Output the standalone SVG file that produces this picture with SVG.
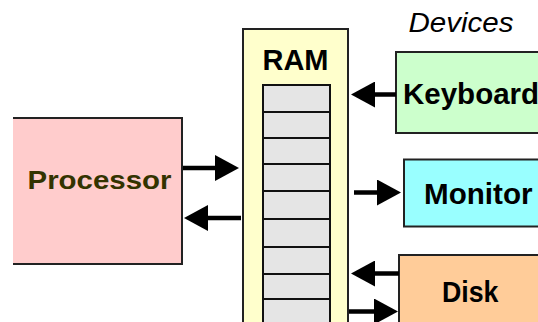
<svg xmlns="http://www.w3.org/2000/svg" width="538" height="322" viewBox="0 0 538 322">
  <style>
    .box { stroke: #222; stroke-width: 2; }
    .cell { fill: #e5e5e5; stroke: #111; stroke-width: 2; }
    .label { font-family: "Liberation Sans", Arial, sans-serif; font-weight: bold; fill: #000; }
    .wire { stroke: #000; stroke-width: 4.5; fill: none; }
  </style>
  <defs>
    <marker id="head" markerUnits="userSpaceOnUse" markerWidth="24" markerHeight="26" refX="2" refY="13" orient="auto">
      <path d="M0,0 L24,13 L0,26 z" fill="#000"/>
    </marker>
  </defs>
  <rect width="538" height="322" fill="#fff"/>

  <!-- CPU -->
  <g id="processor">
    <rect x="13" y="118" width="169" height="146" fill="#ffcccc"/>
    <path d="M13,118 H182 V264 H13" class="box" fill="none"/>
    <text class="label" x="27.5" y="188.5" font-size="26.5" fill="#333300" style="fill:#333300" textLength="144" lengthAdjust="spacingAndGlyphs">Processor</text>
  </g>

  <!-- main memory with its word slots -->
  <g id="ram">
    <rect x="243" y="29" width="105" height="310" fill="#ffffcc" class="box"/>
    <text class="label" x="295.5" y="69.5" font-size="29" text-anchor="middle">RAM</text>
    <rect class="cell" x="263" y="85" width="67" height="27"/>
    <rect class="cell" x="263" y="112" width="67" height="26"/>
    <rect class="cell" x="263" y="138" width="67" height="26"/>
    <rect class="cell" x="263" y="164" width="67" height="27"/>
    <rect class="cell" x="263" y="191" width="67" height="28"/>
    <rect class="cell" x="263" y="219" width="67" height="28"/>
    <rect class="cell" x="263" y="247" width="67" height="27"/>
    <rect class="cell" x="263" y="274" width="67" height="25"/>
    <rect class="cell" x="263" y="299" width="67" height="40"/>
  </g>

  <text x="408.5" y="31.5" font-family="'Liberation Sans', Arial, sans-serif" font-style="italic" font-size="27" fill="#000" textLength="105" lengthAdjust="spacingAndGlyphs">Devices</text>

  <g id="keyboard">
    <rect x="396" y="52" width="150" height="81" fill="#ccffcc" class="box"/>
    <text class="label" x="403" y="104.3" font-size="29.5">Keyboard</text>
  </g>

  <g id="monitor">
    <rect x="404" y="159.5" width="150" height="67" fill="#99ffff" class="box"/>
    <text class="label" x="424" y="204.3" font-size="29.5" textLength="108.5" lengthAdjust="spacingAndGlyphs">Monitor</text>
  </g>

  <g id="disk">
    <rect x="399" y="255" width="150" height="80" fill="#ffcc99" class="box"/>
    <text class="label" x="442" y="301.5" font-size="29.5" textLength="56.5" lengthAdjust="spacingAndGlyphs">Disk</text>
  </g>

  <!-- data paths -->
  <g id="connectors">
    <line class="wire" x1="183" y1="168" x2="217" y2="168" marker-end="url(#head)"/>
    <line class="wire" x1="241" y1="218" x2="206" y2="218" marker-end="url(#head)"/>
    <line class="wire" x1="396" y1="94.5" x2="373" y2="94.5" marker-end="url(#head)"/>
    <line class="wire" x1="354" y1="192.5" x2="379" y2="192.5" marker-end="url(#head)"/>
    <line class="wire" x1="399" y1="273.5" x2="373" y2="273.5" marker-end="url(#head)"/>
    <line class="wire" x1="349" y1="311.5" x2="376" y2="311.5" marker-end="url(#head)"/>
  </g>
</svg>
